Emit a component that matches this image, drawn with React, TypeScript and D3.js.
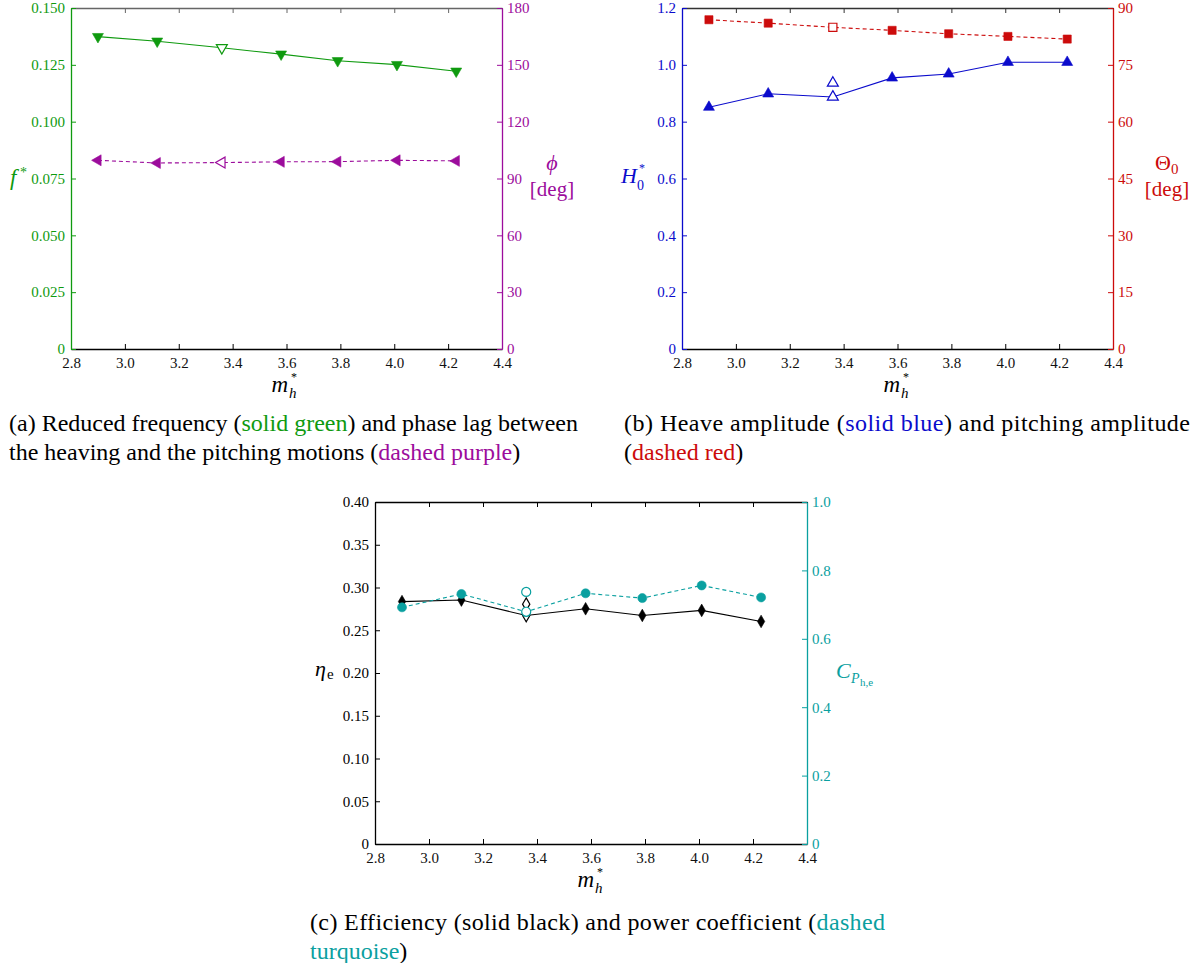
import React, { useEffect, useRef } from 'react';
import * as d3 from 'd3';

// reduced mass m_h^*, shared by every panel
const MASS_RATIO = [2.90, 3.12, 3.36, 3.58, 3.79, 4.01, 4.23];
const HOLLOW_INDEX = 2;

const FREQUENCY = [0.1374, 0.1354, 0.1325, 0.1297, 0.1268, 0.1251, 0.1222];
const PHASE_LAG = [99.6, 98.2, 98.4, 98.8, 98.9, 99.6, 99.3];
const HEAVE_AMP = [0.851, 0.898, 0.887, 0.954, 0.968, 1.009, 1.009];
const HEAVE_AMP_EXTRA = [0.936];
const PITCH_AMP = [86.9, 86.0, 84.9, 84.1, 83.2, 82.5, 81.8];
const EFFICIENCY = [0.2835, 0.2853, 0.2672, 0.2751, 0.2673, 0.2732, 0.2603];
const EFFICIENCY_EXTRA = [0.2805];
const POWER_COEF = [0.692, 0.731, 0.679, 0.733, 0.719, 0.756, 0.721];
const POWER_COEF_EXTRA = [0.737];

const X_TICKS = [2.8, 3.0, 3.2, 3.4, 3.6, 3.8, 4.0, 4.2, 4.4];
const FREQ_TICKS = [0, 0.025, 0.05, 0.075, 0.1, 0.125, 0.15];
const PHASE_TICKS = [0, 30, 60, 90, 120, 150, 180];
const HEAVE_TICKS = [0, 0.2, 0.4, 0.6, 0.8, 1.0, 1.2];
const PITCH_TICKS = [0, 15, 30, 45, 60, 75, 90];
const EFF_TICKS = [0, 0.05, 0.1, 0.15, 0.2, 0.25, 0.3, 0.35, 0.4];
const POWER_TICKS = [0, 0.2, 0.4, 0.6, 0.8, 1.0];

const GREEN = '#0f9a0f';
const PURPLE = '#9c0c9c';
const BLUE = '#0b0bcc';
const RED = '#cc0b0b';
const TEAL = '#0aa0a0';
const BLACK = '#000';

const SERIF = '"Liberation Serif", "Times New Roman", serif';

const PANELS = [
    {
        left: 71, top: 8, width: 431, height: 341, topColor: '#666',
        yLeft: { domain: [0, 0.15], ticks: FREQ_TICKS, decimals: 3, color: GREEN },
        yRight: { domain: [0, 180], ticks: PHASE_TICKS, decimals: 0, color: PURPLE },
        series: [
            { values: FREQUENCY, extra: [], axis: 'left', color: GREEN, dashed: false, symbol: d3.symbolTriangle, size: 52, rotate: 180 },
            { values: PHASE_LAG, extra: [], axis: 'right', color: PURPLE, dashed: true, symbol: d3.symbolTriangle, size: 52, rotate: -90 },
        ],
    },
    {
        left: 682, top: 8, width: 431, height: 341, topColor: '#333',
        yLeft: { domain: [0, 1.2], ticks: HEAVE_TICKS, decimals: 1, color: BLUE },
        yRight: { domain: [0, 90], ticks: PITCH_TICKS, decimals: 0, color: RED },
        series: [
            { values: HEAVE_AMP, extra: HEAVE_AMP_EXTRA, axis: 'left', color: BLUE, dashed: false, symbol: d3.symbolTriangle, size: 52, rotate: 0 },
            { values: PITCH_AMP, extra: [], axis: 'right', color: RED, dashed: true, symbol: d3.symbolSquare, size: 66, rotate: 0 },
        ],
    },
    {
        left: 375, top: 502, width: 432, height: 342, topColor: BLACK,
        yLeft: { domain: [0, 0.4], ticks: EFF_TICKS, decimals: 2, color: BLACK },
        yRight: { domain: [0, 1.0], ticks: POWER_TICKS, decimals: 1, color: TEAL },
        series: [
            { values: EFFICIENCY, extra: EFFICIENCY_EXTRA, axis: 'left', color: BLACK, dashed: false, symbol: d3.symbolDiamond, size: 46, rotate: 0 },
            { values: POWER_COEF, extra: POWER_COEF_EXTRA, axis: 'right', color: TEAL, dashed: true, symbol: d3.symbolCircle, size: 64, rotate: 0 },
        ],
    },
];

const CAPTIONS = [
    { x: 9, y: 431, width: 569, lines: [
        [['(a) Reduced frequency (', BLACK], ['solid green', GREEN], [') and phase lag between', BLACK]],
        [['the heaving and the pitching motions (', BLACK], ['dashed purple', PURPLE], [')', BLACK]],
    ] },
    { x: 624, y: 431, width: 566, lines: [
        [['(b) Heave amplitude (', BLACK], ['solid blue', BLUE], [') and pitching amplitude', BLACK]],
        [['(', BLACK], ['dashed red', RED], [')', BLACK]],
    ] },
    { x: 310, y: 930, width: 575, lines: [
        [['(c) Efficiency (solid black) and power coefficient (', BLACK], ['dashed', TEAL]],
        [['turquoise', TEAL], [')', BLACK]],
    ] },
];

function tickFormat(decimals)
{
    return (v) => (v === 0 ? '0' : d3.format(`.${ decimals }f`)(v));
}

function styleAxis(axisGroup, color)
{
    axisGroup.attr('font-family', null).attr('font-size', null);
    axisGroup.select('.domain').attr('stroke', color).attr('stroke-width', 1.3);
    axisGroup.selectAll('.tick line').attr('stroke', color);
    axisGroup.selectAll('.tick text')
        .attr('fill', color)
        .attr('font-family', SERIF)
        .attr('font-size', 15);
}

function drawPanel(root, p)
{
    const bottom = p.top + p.height;
    const right = p.left + p.width;
    const x = d3.scaleLinear().domain([2.8, 4.4]).range([p.left, right]);
    const yScales = {
        left: d3.scaleLinear().domain(p.yLeft.domain).range([bottom, p.top]),
        right: d3.scaleLinear().domain(p.yRight.domain).range([bottom, p.top]),
    };

    const top = root.append('g').attr('transform', `translate(0,${ p.top })`)
        .call(d3.axisTop(x).tickValues(X_TICKS).tickSize(-5).tickSizeOuter(0).tickFormat(() => ''));
    styleAxis(top, p.topColor);

    const xAxis = root.append('g').attr('transform', `translate(0,${ bottom })`)
        .call(d3.axisBottom(x).tickValues(X_TICKS).tickSize(-5).tickSizeOuter(0).tickPadding(8.5).tickFormat(tickFormat(1)));
    styleAxis(xAxis, BLACK);
    xAxis.selectAll('.tick text').attr('fill', '#111');

    const leftAxis = root.append('g').attr('transform', `translate(${ p.left },0)`)
        .call(d3.axisLeft(yScales.left).tickValues(p.yLeft.ticks).tickSize(-5).tickSizeOuter(0).tickPadding(6).tickFormat(tickFormat(p.yLeft.decimals)));
    styleAxis(leftAxis, p.yLeft.color);

    const rightAxis = root.append('g').attr('transform', `translate(${ right },0)`)
        .call(d3.axisRight(yScales.right).tickValues(p.yRight.ticks).tickSize(-5).tickSizeOuter(0).tickPadding(5).tickFormat(tickFormat(p.yRight.decimals)));
    styleAxis(rightAxis, p.yRight.color);

    p.series.forEach((s) =>
    {
        const y = yScales[s.axis];
        const line = d3.line().x((d, i) => x(MASS_RATIO[i])).y((d) => y(d));
        root.append('path')
            .datum(s.values)
            .attr('fill', 'none')
            .attr('stroke', s.color)
            .attr('stroke-width', 1.1)
            .attr('stroke-dasharray', s.dashed ? '4,3' : null)
            .attr('d', line);
    });

    p.series.forEach((s) =>
    {
        const y = yScales[s.axis];
        const symbol = d3.symbol().type(s.symbol).size(s.size);
        const points = s.values.map((v, i) => ({ x: MASS_RATIO[i], y: v, hollow: i === HOLLOW_INDEX }))
            .concat(s.extra.map((v) => ({ x: MASS_RATIO[HOLLOW_INDEX], y: v, hollow: true })));
        root.append('g').selectAll('path')
            .data(points)
            .join('path')
            .attr('d', symbol)
            .attr('transform', (d) => `translate(${ x(d.x) },${ y(d.y) }) rotate(${ s.rotate })`)
            .attr('fill', (d) => (d.hollow ? 'white' : s.color))
            .attr('stroke', s.color)
            .attr('stroke-width', (d) => (d.hollow ? 1.2 : 0.6));
    });
}

// one text element per glyph group, so scripts sit where LaTeX puts them
function glyph(root, x, y, color, text, size, italic, anchor = 'start')
{
    root.append('text')
        .attr('x', x).attr('y', y)
        .attr('fill', color)
        .attr('text-anchor', anchor)
        .attr('font-family', SERIF)
        .attr('font-size', size)
        .attr('font-style', italic ? 'italic' : 'normal')
        .text(text);
}

function massLabel(root, cx, y)
{
    glyph(root, cx + 2, y, BLACK, 'm', 23, true, 'end');
    glyph(root, cx + 5, y - 11, BLACK, '*', 12, false);
    glyph(root, cx + 3, y + 6, BLACK, 'h', 15, true);
}

function drawLabels(root)
{
    // panel (a)
    massLabel(root, 286, 392);
    glyph(root, 10, 185, GREEN, 'f', 23, true);
    glyph(root, 20, 177, GREEN, '*', 14, false);
    glyph(root, 552, 170, PURPLE, 'ϕ', 22, true, 'middle');
    glyph(root, 552, 196, PURPLE, '[deg]', 21, false, 'middle');

    // panel (b)
    massLabel(root, 898, 392);
    glyph(root, 621, 183, BLUE, 'H', 22, true);
    glyph(root, 639, 172, BLUE, '*', 12, false);
    glyph(root, 637, 190, BLUE, '0', 14, false);
    glyph(root, 1163, 170, RED, 'Θ', 22, false, 'middle');
    glyph(root, 1171, 174, RED, '0', 15, false);
    glyph(root, 1167, 196, RED, '[deg]', 21, false, 'middle');

    // panel (c)
    massLabel(root, 592, 887);
    glyph(root, 315, 676, BLACK, 'η', 22, true);
    glyph(root, 327, 679, BLACK, 'e', 15, false);
    glyph(root, 836, 678, TEAL, 'C', 22, true);
    glyph(root, 851, 683, TEAL, 'P', 14, true);
    glyph(root, 860, 686, TEAL, 'h,e', 11, false);
}

function drawCaptions(root)
{
    CAPTIONS.forEach((c) =>
    {
        c.lines.forEach((segments, li) =>
        {
            const t = root.append('text')
                .attr('x', c.x)
                .attr('y', c.y + li * 29)
                .attr('font-family', SERIF)
                .attr('font-size', 24);
            if (li === 0)
            {
                t.attr('textLength', c.width).attr('lengthAdjust', 'spacing');
            }
            segments.forEach(([text, color]) =>
            {
                t.append('tspan').attr('fill', color).text(text);
            });
        });
    });
}

export default function App()
{
    const svgRef = useRef(null);

    useEffect(() =>
    {
        const svg = d3.select(svgRef.current);
        svg.selectAll('*').remove();
        PANELS.forEach((p) => drawPanel(svg, p));
        drawLabels(svg);
        drawCaptions(svg);
    }, []);

    return (
        <svg
            ref={ svgRef }
            width={ 1197 }
            height={ 963 }
            style={ { position: 'absolute', left: 0, top: 0, background: 'white' } }
        />
    );
}
